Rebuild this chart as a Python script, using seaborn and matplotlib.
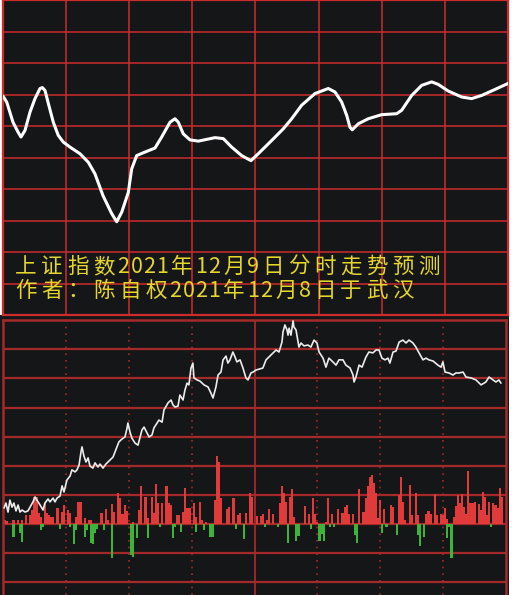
import matplotlib
matplotlib.use("Agg")
import matplotlib.pyplot as plt
from matplotlib.patches import Rectangle
import numpy as np
import seaborn as sns

# ---------------- data ----------------
# forecast curve (top panel): minutes after open, level in grid units
top_t = [0, 1.76, 4.75, 7.13, 8.55, 10.45, 12.83, 15.21, 17.58, 18.68, 19.96, 21.53, 23.90,
         26.28, 28.65, 31.84, 36.59, 40.53, 43.72, 47.52, 51.65, 54.03, 56.40, 59.54, 61.16,
         63.53, 66.67, 72.23, 75.41, 79.36, 81.73, 83.30, 85.68, 88.86, 92.81, 100.74,
         104.69, 108.68, 113.43, 117.85, 121.32, 127.69, 133.20, 137.19, 141.94, 148.26,
         154.59, 157.77, 160.95, 163.33, 164.89, 165.99, 168.84, 173.59, 179.96, 187.09,
         189.47, 194.22, 198.97, 203.72, 206.86, 211.61, 217.98, 222.73, 227.48, 233.80, 240]
top_level = [6.95, 6.76, 6.12, 5.81, 5.65, 5.86, 6.44, 6.87, 7.19, 7.22, 7.13, 6.72, 6.12,
             5.70, 5.49, 5.33, 5.12, 4.85, 4.48, 3.79, 3.22, 2.96, 3.26, 3.89, 4.64,
             5.06, 5.15, 5.30, 5.65, 6.12, 6.23, 6.12, 5.75, 5.56, 5.52, 5.63,
             5.60, 5.33, 5.06, 4.90, 5.12, 5.54, 5.91, 6.23, 6.66, 7.03,
             7.19, 7.08, 6.76, 6.34, 5.96, 5.88, 6.07, 6.23, 6.36, 6.39,
             6.50, 6.97, 7.29, 7.40, 7.32, 7.11, 6.92, 6.87, 6.97, 7.16, 7.35]

# intraday price line (bottom panel)
price_t = [0.5, 1.4, 2.4, 3.3, 4.3, 5.2, 6.2, 7.2, 8.1, 9.1, 10.5, 11.9, 12.9, 14.3, 15.3,
           16.2, 17.7, 19.1, 20.0, 21.5, 22.4, 23.9, 24.8, 25.8, 27.2, 28.2, 29.1, 30.5,
           32.0, 32.9, 34.4, 35.3, 36.3, 37.2, 37.7, 38.6, 39.6, 40.6, 41.5, 42.9, 43.9,
           45.3, 46.3, 47.7, 49.1, 50.1, 51.5, 52.5, 53.4, 54.4, 55.3, 56.3, 57.3, 58.2,
           59.2, 59.6, 60.6, 61.5, 63.0, 64.4, 65.4, 66.3, 67.3, 68.7, 69.7, 71.1, 72.0,
           73.5, 74.4, 75.9, 76.8, 78.2, 78.7, 80.2, 81.1, 82.1, 83.5, 84.4, 85.9, 86.8,
           87.8, 88.7, 89.7, 90.6, 91.1, 92.6, 94.0, 95.9, 97.8, 99.2, 100.2, 101.6, 102.6,
           104.0, 105.0, 106.4, 107.3, 108.3, 109.7, 110.7, 111.6, 113.1, 114.5, 115.9,
           116.9, 118.3, 119.3, 120.7, 122.6, 124.0, 125.5, 126.9, 127.9, 129.3, 130.3,
           131.7, 133.1, 133.6, 134.5, 135.5, 136.0, 136.5, 137.4, 138.4, 138.8, 139.8,
           141.2, 142.2, 143.6, 145.5, 146.9, 148.4, 149.8, 150.8, 152.7, 154.1, 155.5,
           157.4, 158.9, 160.3, 162.2, 163.6, 165.6, 167.0, 167.5, 168.4, 169.9, 171.3,
           173.2, 174.6, 176.5, 178.0, 179.4, 180.8, 182.3, 183.7, 184.6, 186.1, 187.5,
           189.0, 190.8, 192.3, 193.7, 195.6, 197.0, 198.5, 200.4, 201.8, 203.2, 205.2,
           207.5, 209.0, 209.9, 210.9, 212.8, 214.7, 216.1, 217.6, 219.5, 220.9, 223.3,
           225.7, 228.1, 229.5, 230.4, 231.9, 233.8, 235.2, 236.6, 237.6]
price_level = [0.55, 0.72, 0.41, 0.82, 0.58, 0.72, 0.45, 0.65, 0.41, 0.48, 0.41, 0.45, 0.58, 0.76, 0.93,
               0.82, 0.65, 0.48, 0.72, 0.86, 0.76, 0.89, 0.76, 0.89, 0.96, 1.31, 1.10, 1.51,
               1.65, 1.86, 1.79, 1.86, 2.03, 2.47, 2.65, 2.34, 2.13, 2.27, 1.99, 1.92, 2.10,
               1.96, 2.06, 1.92, 2.06, 2.13, 2.23, 2.30, 2.47, 2.65, 2.82, 2.89, 2.95, 2.99,
               3.30, 3.47, 3.16, 2.95, 2.78, 2.71, 2.99, 3.23, 3.33, 3.13, 2.99, 3.06, 3.30,
               3.47, 3.57, 3.50, 3.92, 4.09, 4.16, 4.26, 4.09, 4.02, 4.05, 4.43, 4.26, 4.60,
               4.84, 4.78, 5.36, 5.53, 5.02, 4.95, 4.91, 4.78, 4.71, 4.50, 4.33, 4.71, 5.12,
               5.22, 5.64, 5.77, 5.53, 5.64, 5.91, 5.74, 5.57, 5.64, 5.36, 5.02,
               4.95, 5.19, 5.22, 5.29, 5.33, 5.36, 5.64, 5.74, 5.81, 5.91, 5.98,
               5.91, 6.25, 6.60, 6.84, 6.67, 6.49, 6.73, 6.49, 6.98, 6.77, 6.67,
               6.08, 6.22, 6.12, 6.15, 6.08, 6.32, 6.22, 5.91, 5.70, 5.39, 5.70,
               5.57, 5.46, 5.64, 5.64, 5.46, 5.36, 5.12, 4.88, 5.05, 5.46, 5.39,
               5.74, 5.91, 5.88, 5.98, 5.98, 5.70, 5.64, 5.70, 5.53, 5.91, 5.94,
               6.25, 6.32, 6.22, 6.32, 6.22, 6.08, 5.88, 5.64, 5.70, 5.64, 5.60,
               5.46, 5.39, 5.57, 5.22, 5.19, 5.12, 5.19, 5.19, 5.22, 5.05, 5.02,
               4.95, 4.78, 4.84, 4.88, 5.05, 4.95, 4.88, 4.95, 4.84]

# volume-style bars: red (up) and green (down), minute index and height in grid units
red_t = [1, 2, 5, 7, 9, 11, 13, 14, 15, 16, 17, 18, 20, 21, 22, 23, 24, 26, 28, 29, 31, 32, 35,
         36, 37, 39, 41, 42, 47, 49, 50, 52, 53, 55, 56, 57, 58, 59, 62, 65, 66, 68, 69, 71,
         72, 73, 74, 76, 78, 79, 80, 83, 84, 86, 87, 88, 89, 91, 92, 94, 95, 97, 101, 102,
         103, 104, 107, 108, 110, 112, 113, 116, 118, 119,
         121, 123, 124, 126, 127, 129, 132, 133, 134, 135, 137, 138, 139, 144, 146, 148, 149,
         150, 154, 155, 157, 160, 162, 163, 164, 165, 167, 170, 172, 173, 174, 175, 176, 177,
         178, 179, 180, 182, 185, 186, 189, 190, 191, 192, 194, 195, 197, 198, 202, 203, 204,
         206, 207, 209, 210, 211, 212, 215, 216, 217, 218, 219, 220, 221, 222, 223, 224, 225,
         227, 228, 229, 230, 231, 232, 234, 235, 236, 237, 238]
red_h = [0.14, 0.11, 0.14, 0.14, 0.14, 0.31, 0.31, 0.48, 0.94, 0.94, 0.37, 0.25, 0.71, 0.39, 0.31,
         0.25, 0.25, 0.54, 0.42, 0.65, 0.48, 0.37, 0.25, 0.77, 0.77, 0.19, 0.14, 0.14, 0.37, 0.50,
         0.14, 0.69, 0.42, 1.08, 0.88, 0.34, 0.65, 0.46, 0.08, 0.48, 1.31, 0.94, 0.19, 0.94,
         0.37, 1.36, 0.71, 0.71, 1.31, 0.71, 0.65, 0.31, 0.31, 0.42, 1.25, 0.56, 0.56, 0.73,
         0.25, 0.77, 0.14, 0.08, 0.82, 2.34, 2.14, 0.88, 0.50, 0.60, 0.88, 0.31, 0.37, 0.37,
         1.08, 0.94,
         0.27, 0.27, 0.34, 0.14, 0.50, 0.34, 0.71, 1.31, 1.05, 0.77, 0.94, 1.19, 0.25, 0.62,
         0.34, 0.88, 0.34, 0.08, 0.08, 0.88, 0.34, 0.50, 0.37, 0.57, 0.65, 0.34, 0.34, 1.19,
         0.42, 0.88, 1.31, 1.60, 1.67, 1.40, 1.08, 0.19, 0.82, 0.50, 0.65, 0.60, 1.00, 1.60,
         0.77, 0.14, 1.34, 0.31, 1.08, 0.31, 0.34, 0.45, 0.34, 1.02, 0.31, 0.34, 0.30, 0.54,
         0.16, 0.23, 0.62, 1.00, 0.71, 1.03, 0.60, 0.34, 1.82, 0.71, 0.71, 0.77, 0.69, 0.48,
         1.11, 0.92, 0.31, 0.77, 0.71, 0.65, 0.54, 1.23, 0.92]
green_t = [5, 8, 9, 18, 19, 27, 32, 34, 35, 39, 40, 42, 43, 44, 45, 48, 52, 61, 62, 64, 69, 75,
           81, 82, 85, 92, 96, 99, 100, 111, 115, 125, 131, 136, 140, 141, 147, 151, 152, 153,
           156, 158, 168, 169, 181, 183, 188, 198, 199, 201, 212, 213, 214, 233]
green_h = [0.44, 0.32, 0.61, 0.21, 0.11, 0.18, 0.11, 0.70, 0.21, 0.44, 0.21, 0.66, 0.70, 0.32,
           0.18, 0.21, 1.16, 1.07, 1.12, 0.49, 0.49, 0.11, 0.49, 0.11, 0.26, 0.26, 0.21, 0.44,
           0.44, 0.18, 0.53, 0.11, 0.09, 0.64, 0.58, 0.41, 0.18, 0.58, 0.36, 0.57, 0.09, 0.11,
           0.38, 0.64, 0.32, 0.11, 0.38, 0.38, 0.76, 0.44, 0.49, 0.11, 1.18, 0.11]

title_line1 = "上证指数2021年12月9日分时走势预测"
title_line2 = "作者：陈自权2021年12月8日于武汉"

# ---------------- style ----------------
sns.set_theme(style="dark")
plt.rcParams["font.family"] = ["Noto Sans CJK SC", "DejaVu Sans"]

BG = "#151618"
GRID_TOP = "#cc2c2c"
GRID_BOT = "#a4292a"
TEXT_C = "#e4d62a"
W, H = 512, 595

fig = plt.figure(figsize=(W / 100, H / 100), dpi=100, facecolor="white")
fig.patches.append(Rectangle((0, 0), 509 / W, 280 / H, transform=fig.transFigure,
                             facecolor=BG, edgecolor="none", zorder=-5))

# ---------------- top panel ----------------
ax1 = fig.add_axes([3 / W, 1 - 315 / H, 505 / W, 315 / H])
ax1.set_facecolor(BG)
sns.lineplot(x=top_t, y=top_level, ax=ax1, color="white", linewidth=2.2, sort=False,
             estimator=None, zorder=3)
for ln in ax1.lines:
    ln.set_solid_joinstyle("round")
    ln.set_solid_capstyle("round")
ax1.set_xlim(0, 240)
ax1.set_ylim(0, 10)
ax1.set_xticks(np.arange(0, 241, 30))
ax1.set_yticks(np.arange(0, 11, 1))
ax1.grid(True, color=GRID_TOP, linewidth=1.1)
ax1.tick_params(length=0, labelbottom=False, labelleft=False)
ax1.set_xlabel("")
ax1.set_ylabel("")
for s in ax1.spines.values():
    s.set_visible(True)
    s.set_color(GRID_TOP)
    s.set_linewidth(1.6)


def draw_fixed_pitch(ax, text, x0_px, yc_px, full_px=26.0, half_px=13.0, size=15.5):
    """Lay out text in fixed-width cells (full width for CJK, half for ASCII)."""
    x = x0_px
    for ch in text:
        w = half_px if ord(ch) < 128 else full_px
        xf = (x + w / 2 - 3) / 505
        yf = 1 - yc_px / 315
        ax.text(xf, yf, ch, transform=ax.transAxes, ha="center", va="center",
                color=TEXT_C, fontsize=size)
        x += w


draw_fixed_pitch(ax1, title_line1, 13, 267)
draw_fixed_pitch(ax1, title_line2, 13, 291)

# ---------------- bottom panel ----------------
ax2 = fig.add_axes([3 / W, 0, 503 / W, 275 / H])
ax2.set_facecolor(BG)
for h in range(-2, 7):
    ax2.axhline(h, color=GRID_BOT, linewidth=1.6, zorder=1)
for m in [30, 60, 90, 150, 180, 210]:
    ax2.axvline(m, color=GRID_BOT, linewidth=1.2, linestyle=(0, (1, 3)), zorder=1)
ax2.axvline(120, color=GRID_BOT, linewidth=1.3, zorder=1)

sns.barplot(x=red_t, y=red_h, native_scale=True, color="#e03a3a", saturation=1,
            width=1.0, errorbar=None, linewidth=0, ax=ax2, zorder=2)
sns.barplot(x=green_t, y=[-v for v in green_h], native_scale=True, color="#3cb43c",
            saturation=1, width=1.0, errorbar=None, linewidth=0, ax=ax2, zorder=2)
sns.lineplot(x=price_t, y=price_level, ax=ax2, color="#ececec", linewidth=1.2, sort=False,
             estimator=None, zorder=3)

ax2.set_xlim(0, 240)
ax2.set_ylim(-2.44, 7.01)
ax2.grid(False)
ax2.tick_params(length=0, labelbottom=False, labelleft=False)
ax2.set_xlabel("")
ax2.set_ylabel("")
for name, s in ax2.spines.items():
    s.set_color(GRID_BOT)
    s.set_linewidth(1.8)
    s.set_visible(name != "bottom")

fig.savefig("out.png", dpi=100, facecolor=fig.get_facecolor())
